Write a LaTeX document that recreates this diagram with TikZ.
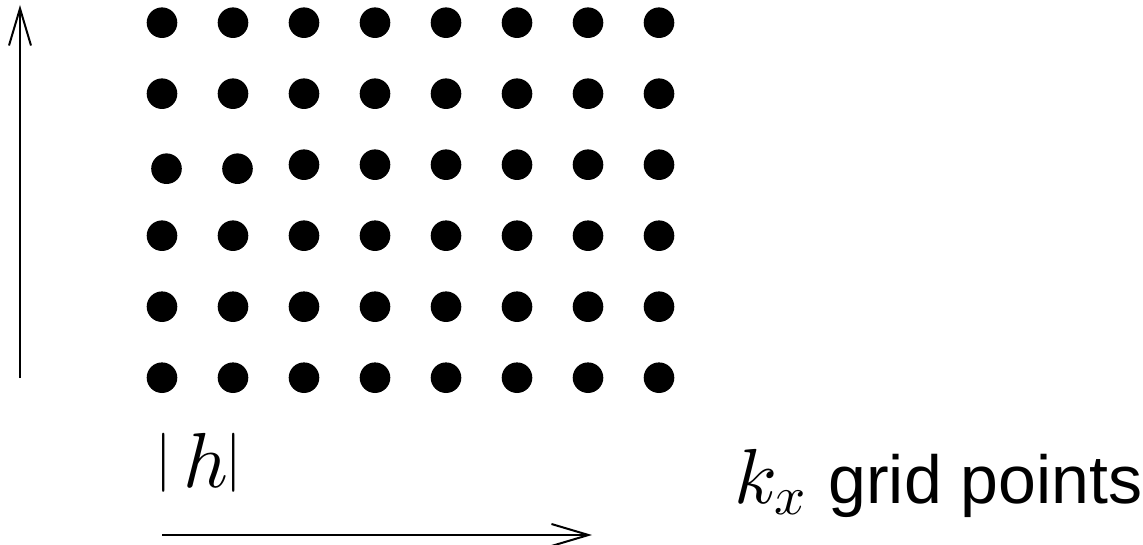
\documentclass[tikz,border=0pt]{standalone}
\DeclareFontShape{OML}{cmm}{m}{it}{<-8>cmmi7<8->cmmi10}{}
\DeclareFontShape{OMS}{cmsy}{m}{n}{<->cmsy10}{}
\usepackage{fontspec}
\newfontfamily\arialfont{Liberation Sans}
\usetikzlibrary{arrows.meta}
\newcommand\shortbar{\raisebox{10pt}{\fontsize{59}{59}\selectfont$|$}}
\tikzset{
  dot/.style={circle,fill=black,draw=none,minimum size=30.6pt,inner sep=0pt},
  axisarrow/.style={line width=2pt,-{Straight Barb[length=37pt,width=22pt]}},
  biglabel/.style={inner sep=0pt,font=\fontsize{78}{80}\selectfont},
}
\begin{document}
\begin{tikzpicture}[x=1pt,y=-1pt]
\useasboundingbox (0,0) rectangle (1143,545);
% grid of dots
\foreach \i in {0,...,7}{
  \foreach \j in {0,...,5}{
    \pgfmathsetmacro{\dx}{(\j==2 && \i<2) ? 4.5 : 0}
    \pgfmathsetmacro{\dy}{(\j==2 && \i<2) ? 4 : 0}
    \node[dot] (d-\i-\j) at ({162+71*\i+\dx},{22.7+71*\j+\dy}) {};
  }
}
% vertical arrow
\coordinate (vstart) at (20,378);
\coordinate (vend) at (20,5);
\draw[axisarrow] (vstart) -- (vend);
% horizontal arrow
\coordinate (hstart) at (162,535);
\coordinate (hend) at (592,535);
\draw[axisarrow] (hstart) -- (hend);
% labels
\node[biglabel,anchor=base west] (hlabel) at (155,487) {\shortbar\hspace{12pt}$h$\hspace{-3.5pt}\shortbar};
\node[biglabel,anchor=base west] (kxlabel) at (734,503) {$k_x$\hspace{22pt}{\arialfont\fontsize{68}{68}\selectfont grid points}};
\end{tikzpicture}
\end{document}
